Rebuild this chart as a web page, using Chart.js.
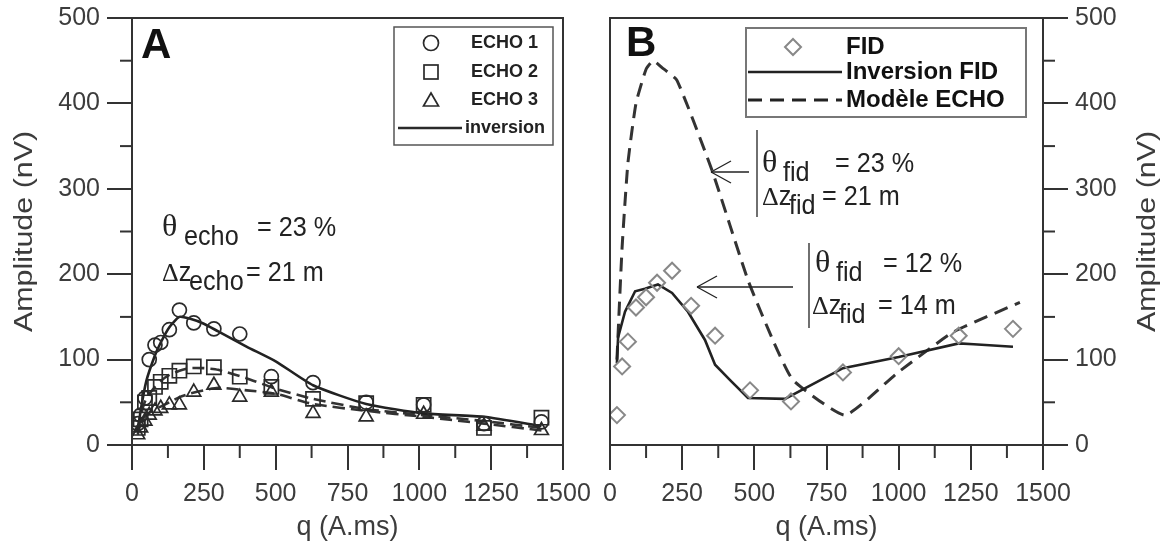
<!DOCTYPE html>
<html>
<head>
<meta charset="utf-8">
<script src="https://cdn.jsdelivr.net/npm/chart.js@4.4.0/dist/chart.umd.min.js"></script>
<style>
  html, body { margin: 0; padding: 0; background: #fff; }
  #wrap { position: relative; width: 1164px; height: 547px; }
  #chartA { position: absolute; left: 0; top: 0; }
  #chartB { position: absolute; left: 580px; top: 0; }
</style>
</head>
<body>
<div id="wrap">
  <canvas id="chartA" width="600" height="547"></canvas>
  <canvas id="chartB" width="584" height="547"></canvas>
</div>
<script>
// ---- data, panel A (echo) ----
const qEcho = [20, 30, 45, 60, 80, 100, 130, 165, 215, 285, 375, 485, 630, 815, 1015, 1225, 1425];
const echo1 = [25, 35, 55, 100, 117, 120, 135, 158, 143, 136, 130, 80, 73, 50, 47, 25, 27];
const echo2 = [20, 30, 50, 55, 68, 74, 81, 87, 92, 91, 80, 68, 54, 49, 47, 20, 32];
const echo3 = [12, 20, 28, 35, 40, 43, 47, 47, 62, 70, 56, 62, 37, 33, 36, 22, 17];

const qInvA = [20, 30, 50, 80, 100, 130, 165, 200, 250, 300, 400, 500, 630, 815, 1015, 1225, 1425];
const inv1 = [15, 40, 75, 105, 120, 138, 150, 148, 142, 133, 115, 98, 70, 48, 37, 33, 22];
const inv2 = [18, 35, 55, 68, 75, 82, 87, 90, 90, 88, 78, 66, 54, 42, 35, 28, 20];
const inv3 = [12, 25, 35, 42, 45, 50, 56, 60, 64, 67, 64, 60, 48, 40, 33, 25, 17];

// ---- data, panel B (FID) ----
const qFid = [24, 42, 62, 90, 125, 163, 215, 281, 364, 485, 627, 807, 1000, 1208, 1396];
const fid = [35, 92, 121, 161, 173, 190, 204, 163, 128, 64, 51, 85, 104, 128, 136];

const qInvFid = [24, 28, 52, 87, 121, 166, 215, 270, 329, 364, 416, 478, 606, 807, 1000, 1208, 1260, 1396];
const invFid = [96, 126, 156, 180, 183, 188, 178, 156, 123, 94, 76, 55, 54, 90, 103, 119, 118, 115];

const qModel = [24, 42, 62, 90, 125, 150, 180, 232, 353, 478, 568, 634, 814, 994, 1188, 1420];
const modelEcho = [100, 232, 330, 400, 440, 450, 442, 427, 322, 193, 120, 76, 35, 84, 132, 167];

// ticks
const xMajor = [0, 250, 500, 750, 1000, 1250, 1500];
const xMinor = [125, 375, 625, 875, 1125, 1375];
const yMinor = [50, 150, 250, 350, 450];

const ink = '#2a2a2a';
const grey = '#3c3c3c';
const SANS = '"Liberation Sans", Arial, sans-serif';

const pts = (xs, ys) => xs.map((q, i) => ({ x: q, y: ys[i] }));

function line(ctx, x1, y1, x2, y2) {
  ctx.beginPath(); ctx.moveTo(x1, y1); ctx.lineTo(x2, y2); ctx.stroke();
}

// narrow-looking text: horizontally squeezed
function nText(ctx, text, x, y, size, sx, family) {
  ctx.save();
  ctx.translate(x, y);
  ctx.scale(sx, 1);
  ctx.font = size + 'px ' + (family || SANS);
  ctx.fillText(text, 0, 0);
  const w = ctx.measureText(text).width * sx;
  ctx.restore();
  return w;
}

// formula like  θ_echo = 23 %
function formula(ctx, x, b, greek, main, sub, subX, rest, restX) {
  ctx.fillStyle = '#222';
  ctx.textAlign = 'left';
  ctx.textBaseline = 'alphabetic';
  const greekSize = greek === 'θ' ? 32 : 26;
  let gx = x + nText(ctx, greek, x, b, greekSize, 1, '"Liberation Serif", serif');
  if (main) nText(ctx, main, gx, b, 28, 0.9);
  nText(ctx, sub, subX, b + 9, 28, 0.9);
  nText(ctx, rest, restX, b, 28, 0.9);
}

function arrow(ctx, tipX, tailX, y) {
  ctx.strokeStyle = '#222';
  ctx.lineWidth = 1.3;
  line(ctx, tipX, y, tailX, y);
  line(ctx, tipX, y, tipX + 20, y - 11);
  line(ctx, tipX, y, tipX + 20, y + 11);
}

function yTitle(ctx, cx, cy) {
  ctx.save();
  ctx.translate(cx, cy);
  ctx.rotate(-Math.PI / 2);
  ctx.scale(1.17, 1);
  ctx.fillStyle = grey;
  ctx.font = '26px ' + SANS;
  ctx.textAlign = 'center'; ctx.textBaseline = 'middle';
  ctx.fillText('Amplitude (nV)', 0, 0);
  ctx.restore();
}

const decor = {
  id: 'decor',
  afterDraw(chart, args, opts) {
    const { ctx, chartArea: a, scales: { x, y } } = chart;
    ctx.save();
    ctx.strokeStyle = '#333';
    ctx.lineWidth = 2;
    ctx.strokeRect(a.left, a.top, a.right - a.left, a.bottom - a.top);
    xMinor.forEach(v => {
      const px = x.getPixelForValue(v);
      line(ctx, px, a.bottom, px, a.bottom + 13);
    });
    yMinor.forEach(v => {
      const py = y.getPixelForValue(v);
      if (opts.side === 'left') line(ctx, a.left, py, a.left - 12, py);
      else line(ctx, a.right, py, a.right + 12, py);
    });
    if (opts.extra) opts.extra(chart);
    ctx.restore();
  }
};

function axes(side, yWidth) {
  const tickFont = { family: SANS, size: 25 };
  return {
    x: {
      type: 'linear', min: 0, max: 1500,
      afterBuildTicks: s => { s.ticks = xMajor.map(v => ({ value: v })); },
      ticks: { font: tickFont, color: grey, padding: 9, autoSkip: false, maxRotation: 0, callback: v => String(v) },
      grid: { drawOnChartArea: false, drawTicks: true, tickLength: 25, color: '#333', lineWidth: 2 },
      border: { display: true, color: '#333', width: 2 },
      title: { display: true, text: 'q (A.ms)', font: { family: SANS, size: 27 }, color: grey, padding: { top: 0, bottom: 3 } },
      afterFit: s => { s.height = 102; s.paddingLeft = 0; s.paddingRight = 0; }
    },
    y: {
      type: 'linear', min: 0, max: 500, position: side,
      ticks: { stepSize: 100, font: tickFont, color: grey, padding: 7, callback: v => String(v) },
      grid: { drawOnChartArea: false, drawTicks: true, tickLength: 25, color: '#333', lineWidth: 2 },
      border: { display: true, color: '#333', width: 2 },
      title: { display: false },
      afterFit: s => { s.width = yWidth; s.paddingTop = 0; s.paddingBottom = 0; }
    }
  };
}

const common = {
  responsive: false,
  animation: false,
  events: [],
  plugins: { legend: { display: false }, tooltip: { enabled: false } }
};

// Panel A
new Chart(document.getElementById('chartA'), {
  type: 'scatter',
  data: {
    datasets: [
      { data: pts(qEcho, echo1), pointStyle: 'circle', pointRadius: 7, borderColor: ink, backgroundColor: 'transparent', borderWidth: 1.7 },
      { data: pts(qEcho, echo2), pointStyle: 'rect', pointRadius: 10, borderColor: ink, backgroundColor: 'transparent', borderWidth: 1.7 },
      { data: pts(qEcho, echo3), pointStyle: 'triangle', pointRadius: 8, borderColor: ink, backgroundColor: 'transparent', borderWidth: 1.7 },
      { data: pts(qInvA, inv1), showLine: true, pointRadius: 0, borderColor: '#222', borderWidth: 2.6, tension: 0.2 },
      { data: pts(qInvA, inv2), showLine: true, pointRadius: 0, borderColor: '#333', borderWidth: 2.6, borderDash: [12, 6], tension: 0.2 },
      { data: pts(qInvA, inv3), showLine: true, pointRadius: 0, borderColor: '#333', borderWidth: 2.6, borderDash: [12, 6], tension: 0.2 }
    ]
  },
  options: {
    ...common,
    layout: { padding: { left: 0, right: 37, top: 18, bottom: 0 } },
    scales: axes('left', 132),
    plugins: {
      ...common.plugins,
      decor: {
        side: 'left',
        extra(chart) {
          const ctx = chart.ctx;
          const a = chart.chartArea;
          yTitle(ctx, 25, (a.top + a.bottom) / 2);
          ctx.fillStyle = '#111';
          ctx.font = 'bold 42px ' + SANS;
          ctx.textAlign = 'left'; ctx.textBaseline = 'alphabetic';
          ctx.fillText('A', 141, 58);
          // legend
          ctx.strokeStyle = '#555'; ctx.lineWidth = 1.5;
          ctx.strokeRect(394, 27, 159, 118);
          ctx.strokeStyle = ink; ctx.lineWidth = 1.7;
          const lx = 431;
          ctx.beginPath(); ctx.arc(lx, 43, 7.5, 0, Math.PI * 2); ctx.stroke();
          ctx.strokeRect(lx - 7, 65, 14, 14);
          ctx.beginPath(); ctx.moveTo(lx, 93); ctx.lineTo(lx + 7.5, 106); ctx.lineTo(lx - 7.5, 106); ctx.closePath(); ctx.stroke();
          ctx.lineWidth = 2.5; line(ctx, 398, 128, 462, 128);
          ctx.fillStyle = '#222';
          ctx.font = 'bold 18px ' + SANS;
          ctx.textBaseline = 'middle';
          ['ECHO 1', 'ECHO 2', 'ECHO 3', 'inversion'].forEach((t, i) => ctx.fillText(t, i === 3 ? 465 : 471, [43, 72, 100, 128][i]));
          ctx.textBaseline = 'alphabetic';
          formula(ctx, 162, 236, 'θ', '', 'echo', 184, '= 23 %', 257);
          formula(ctx, 162, 281, 'Δ', 'z', 'echo', 189, '= 21 m', 246);
        }
      }
    }
  },
  plugins: [decor]
});

// Panel B (canvas offset 580 px)
const ox = 580;
new Chart(document.getElementById('chartB'), {
  type: 'scatter',
  data: {
    datasets: [
      { data: pts(qFid, fid), pointStyle: 'rectRot', pointRadius: 8, borderColor: '#888', backgroundColor: 'transparent', borderWidth: 2 },
      { data: pts(qInvFid, invFid), showLine: true, pointRadius: 0, borderColor: '#222', borderWidth: 2.6 },
      { data: pts(qModel, modelEcho), showLine: true, pointRadius: 0, borderColor: '#333', borderWidth: 3, borderDash: [14, 8], tension: 0.15 }
    ]
  },
  options: {
    ...common,
    layout: { padding: { left: 30, right: 0, top: 18, bottom: 0 } },
    scales: axes('right', 121),
    plugins: {
      ...common.plugins,
      decor: {
        side: 'right',
        extra(chart) {
          const ctx = chart.ctx;
          const a = chart.chartArea;
          yTitle(ctx, 1148 - ox, (a.top + a.bottom) / 2);

          ctx.fillStyle = '#111';
          ctx.font = 'bold 42px ' + SANS;
          ctx.textAlign = 'left'; ctx.textBaseline = 'alphabetic';
          ctx.fillText('B', 626 - ox, 56);
          // legend
          ctx.strokeStyle = '#777'; ctx.lineWidth = 2;
          ctx.strokeRect(746 - ox, 28, 280, 89);
          ctx.strokeStyle = '#888';
          const dx = 793 - ox;
          ctx.beginPath(); ctx.moveTo(dx, 39); ctx.lineTo(dx + 8, 47); ctx.lineTo(dx, 55); ctx.lineTo(dx - 8, 47); ctx.closePath(); ctx.stroke();
          ctx.strokeStyle = '#222'; ctx.lineWidth = 2.6;
          line(ctx, 748 - ox, 72, 842 - ox, 72);
          ctx.setLineDash([14, 8]); ctx.lineWidth = 3;
          line(ctx, 748 - ox, 100, 842 - ox, 100);
          ctx.setLineDash([]);
          ctx.fillStyle = '#111';
          ctx.font = 'bold 24px ' + SANS;
          ctx.textBaseline = 'middle';
          ['FID', 'Inversion FID', 'Modèle ECHO'].forEach((t, i) => ctx.fillText(t, 846 - ox, [47, 72, 100][i]));
          ctx.textBaseline = 'alphabetic';
          // annotations
          arrow(ctx, 711 - ox, 749 - ox, 172);
          line(ctx, 757 - ox, 130, 757 - ox, 217);
          formula(ctx, 762 - ox, 172, 'θ', '', 'fid', 783 - ox, '= 23 %', 835 - ox);
          formula(ctx, 762 - ox, 205, 'Δ', 'z', 'fid', 789 - ox, '= 21 m', 822 - ox);
          arrow(ctx, 697 - ox, 793 - ox, 287);
          ctx.lineWidth = 1.3;
          line(ctx, 809 - ox, 243, 809 - ox, 328);
          formula(ctx, 815 - ox, 272, 'θ', '', 'fid', 836 - ox, '= 12 %', 883 - ox);
          formula(ctx, 812 - ox, 314, 'Δ', 'z', 'fid', 839 - ox, '= 14 m', 878 - ox);
        }
      }
    }
  },
  plugins: [decor]
});
</script>
</body>
</html>
